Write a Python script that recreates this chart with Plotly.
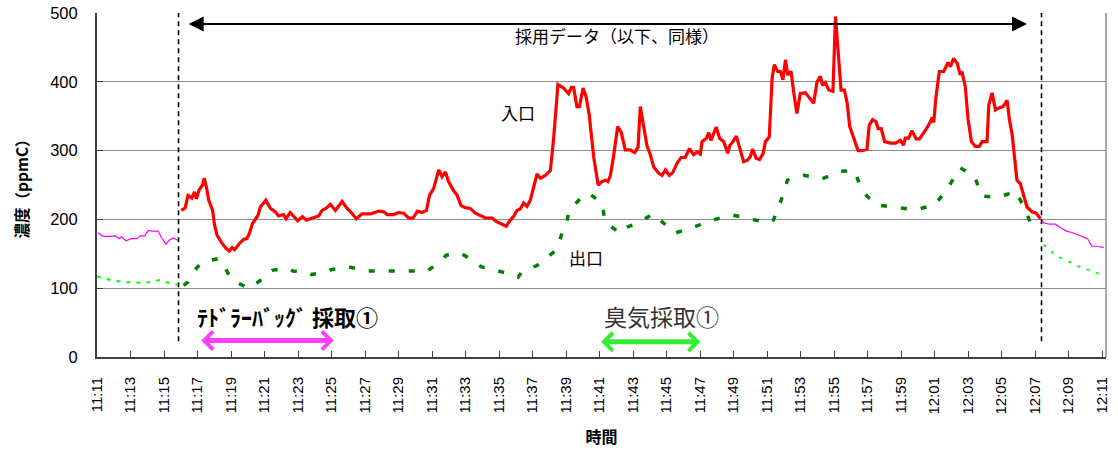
import datetime as dt
import plotly.graph_objects as go

# Measurement start (clock time of the first x tick)
T0 = dt.datetime(2000, 1, 1, 11, 11, 0)

# Inlet concentration (ppmC) during the adopted period; seconds after 11:11:00
inlet_sec = [302, 316, 326, 340, 349, 356, 366, 378, 384, 392, 400, 414, 421, 430, 445, 462, 474, 484,
             493, 510, 525, 537, 546, 557, 577, 585, 605, 621, 639, 650, 668, 677, 692, 704, 719, 736,
             750, 764, 782, 794, 806, 820, 836, 854, 878, 896, 913, 929, 949, 979, 1009, 1027, 1039,
             1062, 1080, 1098, 1116, 1132, 1148, 1164, 1180, 1191, 1206, 1224, 1236, 1248, 1259, 1277,
             1290, 1304, 1319, 1337, 1355, 1373, 1391, 1415, 1430, 1451, 1466, 1480, 1492, 1504, 1516,
             1528, 1540, 1552, 1564, 1576, 1588, 1606, 1624, 1636, 1651, 1671, 1689, 1699, 1707, 1719,
             1728, 1741, 1752, 1763, 1779, 1795, 1809, 1821, 1830, 1839, 1850, 1865, 1878, 1892, 1910,
             1926, 1938, 1946, 1958, 1970, 1982, 1994, 2012, 2024, 2036, 2050, 2062, 2078, 2092, 2107,
             2122, 2137, 2149, 2161, 2167, 2183, 2191, 2199, 2218, 2230, 2245, 2259, 2266, 2278, 2290,
             2304, 2316, 2330, 2340, 2348, 2361, 2373, 2386, 2394, 2408, 2418, 2426, 2438, 2448, 2457,
             2466, 2474, 2486, 2495, 2507, 2519, 2537, 2555, 2567, 2579, 2591, 2599, 2609, 2621, 2636,
             2645, 2656, 2665, 2677, 2687, 2696, 2710, 2726, 2740, 2758, 2766, 2778, 2790, 2798, 2809,
             2821, 2842, 2860, 2877, 2889, 2895, 2907, 2919, 2934, 2946, 2957, 2970, 2985, 2991, 2997,
             3005, 3017, 3033, 3048, 3057, 3068, 3081, 3092, 3098, 3110, 3120, 3132, 3146, 3160, 3170,
             3188, 3194, 3206, 3218, 3230, 3245, 3260, 3268, 3278, 3287, 3295, 3307, 3319, 3331, 3349,
             3364, 3379]
inlet_ppmc = [213, 217, 235, 231, 240, 230, 243, 250, 260, 247, 228, 213, 192, 177, 167, 158, 154, 159,
              156, 165, 171, 172, 180, 194, 206, 218, 228, 216, 211, 205, 207, 201, 210, 204, 198, 204,
              199, 201, 204, 205, 213, 216, 222, 213, 226, 216, 209, 201, 208, 208, 212, 211, 207,
              207, 210, 209, 202, 202, 212, 210, 213, 235, 245, 272, 262, 269, 255, 242,
              235, 220, 217, 216, 209, 206, 202, 202, 197, 193, 190, 199, 204, 213, 215,
              224, 219, 228, 245, 266, 260, 264, 271, 320, 396, 391, 383, 392, 392, 364,
              364, 391, 378, 352, 291, 250, 255, 257, 255, 264, 291, 335, 326, 301, 301,
              297, 305, 364, 335, 307, 294, 276, 267, 264, 272, 264, 268, 282, 290, 290,
              303, 294, 298, 295, 313, 318, 326, 315, 334, 318, 313, 296, 307, 313, 321,
              301, 284, 286, 291, 302, 289, 287, 296, 313, 320, 405, 425, 415, 415, 403,
              432, 410, 415, 386, 354, 383, 384, 375, 369, 400, 408, 395, 399, 388, 386,
              495, 432, 388, 388, 369, 335, 318, 300, 300, 302, 337, 345, 342, 332, 332,
              313, 311, 311, 315, 308, 318, 318, 329, 317, 317, 323, 331, 342, 348, 341,
              378, 415, 415, 428, 422, 434, 427, 410, 415, 393, 345, 313, 306, 306, 313,
              313, 366, 384, 359, 362, 364, 373, 345, 323, 291, 257, 252, 233, 218, 211,
              209, 201]

# Outlet concentration (ppmC) during the adopted period
outlet_sec = [310, 326, 358, 378, 436, 450, 477, 495, 546, 561, 605, 627, 684, 701, 749, 768, 818, 839,
              900, 972, 1040, 1112, 1183, 1236, 1251, 1299, 1319, 1377, 1448, 1508, 1522, 1576, 1596,
              1644, 1653, 1671, 1680, 1692, 1711, 1743, 1761, 1795, 1811, 1818, 1833, 1874, 1892, 1939,
              1992, 2012, 2070, 2132, 2202, 2279, 2353, 2405, 2423, 2449, 2473, 2532, 2596, 2664, 2713,
              2741, 2790, 2861, 2931, 3001, 3048, 3091, 3143, 3169, 3230, 3291, 3327, 3357]
outlet_ppmc = [104, 109, 130, 138, 143, 136, 116, 109, 100, 104, 117, 126, 129, 125, 124, 120, 123, 127,
               131, 125, 125, 125, 125, 141, 148, 151, 147, 131, 124, 116, 124, 133, 140,
               155, 164, 187, 192, 214, 222, 235, 238, 228, 221, 199, 192, 180, 188, 195,
               208, 201, 180, 188, 199, 206, 199, 195, 199, 226, 257, 264, 259, 270, 271,
               241, 221, 217, 214, 221, 246, 275, 263, 234, 232, 241, 212, 180]

# Inlet outside the adopted period
inlet_pre_sec = [4, 18, 30, 48, 66, 80, 87, 104, 123, 143, 155, 171, 183, 197, 219, 230, 247, 259, 274, 292]
inlet_pre_ppmc = [181, 176, 175, 176, 176, 172, 175, 169, 172, 172, 176, 176, 184, 183, 183, 174, 164,
                  170, 173, 169]
inlet_post_sec = [3381, 3391, 3412, 3433, 3451, 3472, 3492, 3513, 3534, 3548, 3564, 3582, 3606]
inlet_post_ppmc = [200, 195, 193, 193, 188, 183, 181, 177, 174, 172, 161, 161, 159]

# Outlet outside the adopted period
outlet_pre_sec = [0, 48, 94, 148, 202, 220, 256, 288]
outlet_pre_ppmc = [117, 112, 109, 108, 109, 112, 108, 105]
outlet_post_sec = [3391, 3427, 3462, 3498, 3528, 3568, 3605]
outlet_post_ppmc = [163, 150, 142, 136, 129, 125, 117]

# Adopted-data window and sampling windows (seconds after 11:11:00)
adopted_bounds_sec = [292, 3383]
adopted_arrow_sec = [323, 3331]
bag_sampling_sec = [368, 848]
odor_sampling_sec = [1800, 2161]
axis_end_sec = 3614

Y_TICKS = [0, 100, 200, 300, 400, 500]


def ts(sec):
    return T0 + dt.timedelta(seconds=sec)


def ts_list(secs):
    return [ts(s) for s in secs]


def tstr(sec):
    return ts(sec).strftime("%Y-%m-%d %H:%M:%S")


JP = "Noto Sans CJK JP"
NUM = "Liberation Sans, Arial, sans-serif"

fig = go.Figure()

fig.add_trace(go.Scatter(x=ts_list(inlet_pre_sec), y=inlet_pre_ppmc, mode="lines",
                         line=dict(color="#ff00ff", width=1.2), showlegend=False))
fig.add_trace(go.Scatter(x=ts_list(inlet_post_sec), y=inlet_post_ppmc, mode="lines",
                         line=dict(color="#ff00ff", width=1.2), showlegend=False))
fig.add_trace(go.Scatter(x=ts_list(outlet_pre_sec), y=outlet_pre_ppmc, mode="lines",
                         line=dict(color="#00ff00", width=2, dash="4px,6px"), showlegend=False))
fig.add_trace(go.Scatter(x=ts_list(outlet_post_sec), y=outlet_post_ppmc, mode="lines",
                         line=dict(color="#00ff00", width=2, dash="3px,7px"), showlegend=False))
fig.add_trace(go.Scatter(x=ts_list(outlet_sec), y=outlet_ppmc, mode="lines", name="出口",
                         line=dict(color="#008000", width=3.5, dash="6px,14px"), showlegend=False))
fig.add_trace(go.Scatter(x=ts_list(inlet_sec), y=inlet_ppmc, mode="lines", name="入口",
                         line=dict(color="#ff0000", width=3.2), showlegend=False))

shapes = []
# boundaries of the adopted period
for s in adopted_bounds_sec:
    shapes.append(dict(type="line", xref="x", yref="y", x0=ts(s), x1=ts(s), y0=23, y1=500,
                       line=dict(color="black", width=1.6, dash="5px,4px")))
# right frame edge
shapes.append(dict(type="line", xref="paper", yref="paper", x0=1, x1=1, y0=0, y1=1,
                   line=dict(color="#8c8c8c", width=1.5)))

annotations = [
    # adopted-period double arrow
    dict(x=tstr(adopted_arrow_sec[1]), y=484, ax=tstr(adopted_arrow_sec[0]), ay=484,
         xref="x", yref="y", axref="x", ayref="y", text="", showarrow=True,
         arrowhead=2, startarrowhead=2, arrowside="end+start", arrowsize=1.5,
         startarrowsize=1.5, arrowwidth=2, arrowcolor="black", standoff=0, startstandoff=0),
    dict(x=tstr(1864), y=468, xref="x", yref="y", text="採用データ（以下、同様）",
         showarrow=False, font=dict(family=JP, size=17, color="black")),
    dict(x=tstr(1507), y=355, xref="x", yref="y", text="入口",
         showarrow=False, font=dict(family=JP, size=17, color="black")),
    dict(x=tstr(1751), y=144, xref="x", yref="y", text="出口",
         showarrow=False, font=dict(family=JP, size=17, color="black")),
    # sampling windows
    dict(x=tstr(350), y=60, xref="x", yref="y", xanchor="left", text="ﾃﾄﾞﾗｰﾊﾞｯｸﾞ 採取①",
         showarrow=False, font=dict(family=JP, size=22, color="black", weight="bold")),
    dict(x=tstr(bag_sampling_sec[1]), y=24, ax=tstr(bag_sampling_sec[0]), ay=24,
         xref="x", yref="y", axref="x", ayref="y", text="", showarrow=True,
         arrowhead=4, startarrowhead=4, arrowside="end+start", arrowsize=0.7,
         startarrowsize=0.7, arrowwidth=5, arrowcolor="#ff40ff", standoff=0, startstandoff=0),
    dict(x=tstr(1810), y=60, xref="x", yref="y", xanchor="left", text="臭気採取①",
         showarrow=False, font=dict(family=JP, size=23, color="#333333")),
    dict(x=tstr(odor_sampling_sec[1]), y=22, ax=tstr(odor_sampling_sec[0]), ay=22,
         xref="x", yref="y", axref="x", ayref="y", text="", showarrow=True,
         arrowhead=4, startarrowhead=4, arrowside="end+start", arrowsize=0.7,
         startarrowsize=0.7, arrowwidth=5, arrowcolor="#33ee33", standoff=0, startstandoff=0),
]

fig.update_layout(
    width=1118, height=450,
    margin=dict(l=97, r=12, t=13, b=93),
    paper_bgcolor="white", plot_bgcolor="white",
    shapes=shapes, annotations=annotations,
    xaxis=dict(
        type="date", range=[ts(0), ts(axis_end_sec)], tick0=ts(0), dtick=120000, automargin=False,
        tickformat="%H:%M", tickangle=-90, ticks="inside", ticklen=6, tickcolor="#404040",
        showgrid=False, zeroline=False, showline=True, linecolor="#404040", linewidth=2,
        ticklabelstandoff=12,
        tickfont=dict(family=NUM, size=15, color="black"),
        title=dict(text="時間", standoff=18, font=dict(family=JP, size=16, color="black", weight="bold")),
    ),
    yaxis=dict(
        range=[0, 500], tickvals=Y_TICKS, ticks="inside", ticklen=6, tickcolor="#404040",
        automargin=False,
        showgrid=True, gridcolor="#8c8c8c", gridwidth=1.2, zeroline=False,
        showline=True, linecolor="#404040", linewidth=2, ticklabelstandoff=14,
        tickfont=dict(family=NUM, size=16.5, color="black"),
        title=dict(text="濃度（ppmC）", standoff=18, font=dict(family=JP, size=15.5, color="black", weight="bold")),
    ),
)

fig.write_html("out.html")
